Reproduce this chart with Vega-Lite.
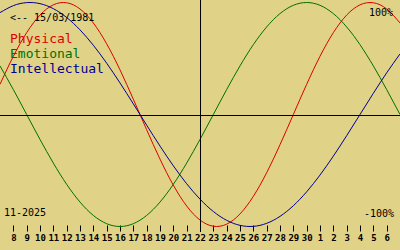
{
  "$schema": "https://vega.github.io/schema/vega-lite/v6.json",
  "width": 400,
  "height": 250,
  "autosize": {"type": "none"},
  "padding": 0,
  "background": "#e0d286",
  "config": {"view": {"stroke": null}},
  "datasets": {
    "bio": [
      {"d": 0, "Physical": 0.2698, "Emotional": 0.4339, "Intellectual": 0.9096},
      {"d": 1, "Physical": 0.5196, "Emotional": 0.2225, "Intellectual": 0.9718},
      {"d": 2, "Physical": 0.7308, "Emotional": 0, "Intellectual": 0.9989},
      {"d": 3, "Physical": 0.8879, "Emotional": -0.2225, "Intellectual": 0.9898},
      {"d": 4, "Physical": 0.9791, "Emotional": -0.4339, "Intellectual": 0.9450},
      {"d": 5, "Physical": 0.9977, "Emotional": -0.6235, "Intellectual": 0.8660},
      {"d": 6, "Physical": 0.9423, "Emotional": -0.7818, "Intellectual": 0.7558},
      {"d": 7, "Physical": 0.8170, "Emotional": -0.9010, "Intellectual": 0.6182},
      {"d": 8, "Physical": 0.6311, "Emotional": -0.9749, "Intellectual": 0.4582},
      {"d": 9, "Physical": 0.3984, "Emotional": -1, "Intellectual": 0.2817},
      {"d": 10, "Physical": 0.1362, "Emotional": -0.9749, "Intellectual": 0.0951},
      {"d": 11, "Physical": -0.1362, "Emotional": -0.9010, "Intellectual": -0.0951},
      {"d": 12, "Physical": -0.3984, "Emotional": -0.7818, "Intellectual": -0.2817},
      {"d": 13, "Physical": -0.6311, "Emotional": -0.6235, "Intellectual": -0.4582},
      {"d": 14, "Physical": -0.8170, "Emotional": -0.4339, "Intellectual": -0.6182},
      {"d": 15, "Physical": -0.9423, "Emotional": -0.2225, "Intellectual": -0.7558},
      {"d": 16, "Physical": -0.9977, "Emotional": 0, "Intellectual": -0.8660},
      {"d": 17, "Physical": -0.9791, "Emotional": 0.2225, "Intellectual": -0.9450},
      {"d": 18, "Physical": -0.8879, "Emotional": 0.4339, "Intellectual": -0.9898},
      {"d": 19, "Physical": -0.7308, "Emotional": 0.6235, "Intellectual": -0.9989},
      {"d": 20, "Physical": -0.5196, "Emotional": 0.7818, "Intellectual": -0.9718},
      {"d": 21, "Physical": -0.2698, "Emotional": 0.9010, "Intellectual": -0.9096},
      {"d": 22, "Physical": 0, "Emotional": 0.9749, "Intellectual": -0.8146},
      {"d": 23, "Physical": 0.2698, "Emotional": 1, "Intellectual": -0.6901},
      {"d": 24, "Physical": 0.5196, "Emotional": 0.9749, "Intellectual": -0.5406},
      {"d": 25, "Physical": 0.7308, "Emotional": 0.9010, "Intellectual": -0.3717},
      {"d": 26, "Physical": 0.8879, "Emotional": 0.7818, "Intellectual": -0.1893},
      {"d": 27, "Physical": 0.9791, "Emotional": 0.6235, "Intellectual": 0},
      {"d": 28, "Physical": 0.9977, "Emotional": 0.4339, "Intellectual": 0.1893},
      {"d": 29, "Physical": 0.9423, "Emotional": 0.2225, "Intellectual": 0.3717},
      {"d": 30, "Physical": 0.8170, "Emotional": 0, "Intellectual": 0.5406}
    ],
    "one": [{"k": 1}]
  },
  "layer": [
    {
      "data": {"name": "bio"},
      "transform": [{"fold": ["Physical", "Emotional", "Intellectual"], "as": ["series", "v"]}],
      "mark": {"type": "line", "interpolate": "natural", "strokeWidth": 1},
      "encoding": {
        "x": {
          "field": "d", "type": "quantitative",
          "scale": {"domain": [0, 30], "nice": false, "zero": false},
          "axis": {"title": null, "orient": "bottom", "offset": -25, "domain": false, "grid": false, "values": [1,2,3,4,5,6,7,8,9,10,11,12,13,14,15,16,17,18,19,20,21,22,23,24,25,26,27,28,29], "labelExpr": "datum.value <= 23 ? datum.value + 7 : datum.value - 23", "tickColor": "#000000", "tickSize": 6, "tickWidth": 1, "labelColor": "#000000", "labelFont": "DejaVu Sans Mono", "labelFontSize": 9, "labelFontWeight": "bold", "labelPadding": 2, "labelOverlap": false, "labelBound": false, "labelFlush": false}
        },
        "y": {
          "field": "v", "type": "quantitative",
          "scale": {"domain": [-1.20982, 1.02232], "nice": false, "zero": false},
          "axis": null
        },
        "color": {
          "field": "series", "type": "nominal",
          "scale": {"domain": ["Physical", "Emotional", "Intellectual"], "range": ["#dd0000", "#007000", "#000090"]},
          "legend": null
        },
        "detail": {"field": "series"}
      }
    },
    {
      "data": {"name": "one"},
      "mark": {"type": "rule", "color": "#000000", "strokeWidth": 1},
      "encoding": {"y": {"datum": -0.00893, "type": "quantitative", "axis": null}}
    },
    {
      "data": {"name": "one"},
      "mark": {"type": "rule", "color": "#000000", "strokeWidth": 1},
      "encoding": {
        "x": {"datum": 15.0375, "type": "quantitative", "axis": {"title": null, "orient": "bottom", "offset": -25, "domain": false, "grid": false, "values": [1,2,3,4,5,6,7,8,9,10,11,12,13,14,15,16,17,18,19,20,21,22,23,24,25,26,27,28,29], "labelExpr": "datum.value <= 23 ? datum.value + 7 : datum.value - 23", "tickColor": "#000000", "tickSize": 6, "tickWidth": 1, "labelColor": "#000000", "labelFont": "DejaVu Sans Mono", "labelFontSize": 9, "labelFontWeight": "bold", "labelPadding": 2, "labelOverlap": false, "labelBound": false, "labelFlush": false}},
        "y": {"datum": 1.02232, "type": "quantitative", "axis": null},
        "y2": {"datum": -1.049}
      }
    },
    {
      "data": {"name": "one"},
      "mark": {"type": "text", "font": "DejaVu Sans Mono", "fontSize": 10, "align": "left", "baseline": "alphabetic", "color": "#000000"},
      "encoding": {"x": {"datum": 0.75, "type": "quantitative", "axis": {"title": null, "orient": "bottom", "offset": -25, "domain": false, "grid": false, "values": [1,2,3,4,5,6,7,8,9,10,11,12,13,14,15,16,17,18,19,20,21,22,23,24,25,26,27,28,29], "labelExpr": "datum.value <= 23 ? datum.value + 7 : datum.value - 23", "tickColor": "#000000", "tickSize": 6, "tickWidth": 1, "labelColor": "#000000", "labelFont": "DejaVu Sans Mono", "labelFontSize": 9, "labelFontWeight": "bold", "labelPadding": 2, "labelOverlap": false, "labelBound": false, "labelFlush": false}}, "y": {"datum": 0.8375, "type": "quantitative", "axis": null}, "text": {"value": "<-- 15/03/1981"}}
    },
    {
      "data": {"name": "one"},
      "mark": {"type": "text", "font": "DejaVu Sans Mono", "fontSize": 13, "align": "left", "baseline": "alphabetic", "color": "#dd0000"},
      "encoding": {"x": {"datum": 0.75, "type": "quantitative", "axis": {"title": null, "orient": "bottom", "offset": -25, "domain": false, "grid": false, "values": [1,2,3,4,5,6,7,8,9,10,11,12,13,14,15,16,17,18,19,20,21,22,23,24,25,26,27,28,29], "labelExpr": "datum.value <= 23 ? datum.value + 7 : datum.value - 23", "tickColor": "#000000", "tickSize": 6, "tickWidth": 1, "labelColor": "#000000", "labelFont": "DejaVu Sans Mono", "labelFontSize": 9, "labelFontWeight": "bold", "labelPadding": 2, "labelOverlap": false, "labelBound": false, "labelFlush": false}}, "y": {"datum": 0.641, "type": "quantitative", "axis": null}, "text": {"value": "Physical"}}
    },
    {
      "data": {"name": "one"},
      "mark": {"type": "text", "font": "DejaVu Sans Mono", "fontSize": 13, "align": "left", "baseline": "alphabetic", "color": "#007000"},
      "encoding": {"x": {"datum": 0.75, "type": "quantitative", "axis": {"title": null, "orient": "bottom", "offset": -25, "domain": false, "grid": false, "values": [1,2,3,4,5,6,7,8,9,10,11,12,13,14,15,16,17,18,19,20,21,22,23,24,25,26,27,28,29], "labelExpr": "datum.value <= 23 ? datum.value + 7 : datum.value - 23", "tickColor": "#000000", "tickSize": 6, "tickWidth": 1, "labelColor": "#000000", "labelFont": "DejaVu Sans Mono", "labelFontSize": 9, "labelFontWeight": "bold", "labelPadding": 2, "labelOverlap": false, "labelBound": false, "labelFlush": false}}, "y": {"datum": 0.502, "type": "quantitative", "axis": null}, "text": {"value": "Emotional"}}
    },
    {
      "data": {"name": "one"},
      "mark": {"type": "text", "font": "DejaVu Sans Mono", "fontSize": 13, "align": "left", "baseline": "alphabetic", "color": "#000090"},
      "encoding": {"x": {"datum": 0.75, "type": "quantitative", "axis": {"title": null, "orient": "bottom", "offset": -25, "domain": false, "grid": false, "values": [1,2,3,4,5,6,7,8,9,10,11,12,13,14,15,16,17,18,19,20,21,22,23,24,25,26,27,28,29], "labelExpr": "datum.value <= 23 ? datum.value + 7 : datum.value - 23", "tickColor": "#000000", "tickSize": 6, "tickWidth": 1, "labelColor": "#000000", "labelFont": "DejaVu Sans Mono", "labelFontSize": 9, "labelFontWeight": "bold", "labelPadding": 2, "labelOverlap": false, "labelBound": false, "labelFlush": false}}, "y": {"datum": 0.3705, "type": "quantitative", "axis": null}, "text": {"value": "Intellectual"}}
    },
    {
      "data": {"name": "one"},
      "mark": {"type": "text", "font": "DejaVu Sans Mono", "fontSize": 10, "align": "right", "baseline": "alphabetic", "color": "#000000"},
      "encoding": {"x": {"datum": 29.475, "type": "quantitative", "axis": {"title": null, "orient": "bottom", "offset": -25, "domain": false, "grid": false, "values": [1,2,3,4,5,6,7,8,9,10,11,12,13,14,15,16,17,18,19,20,21,22,23,24,25,26,27,28,29], "labelExpr": "datum.value <= 23 ? datum.value + 7 : datum.value - 23", "tickColor": "#000000", "tickSize": 6, "tickWidth": 1, "labelColor": "#000000", "labelFont": "DejaVu Sans Mono", "labelFontSize": 9, "labelFontWeight": "bold", "labelPadding": 2, "labelOverlap": false, "labelBound": false, "labelFlush": false}}, "y": {"datum": 0.882, "type": "quantitative", "axis": null}, "text": {"value": "100%"}}
    },
    {
      "data": {"name": "one"},
      "mark": {"type": "text", "font": "DejaVu Sans Mono", "fontSize": 10, "align": "right", "baseline": "alphabetic", "color": "#000000"},
      "encoding": {"x": {"datum": 29.55, "type": "quantitative", "axis": {"title": null, "orient": "bottom", "offset": -25, "domain": false, "grid": false, "values": [1,2,3,4,5,6,7,8,9,10,11,12,13,14,15,16,17,18,19,20,21,22,23,24,25,26,27,28,29], "labelExpr": "datum.value <= 23 ? datum.value + 7 : datum.value - 23", "tickColor": "#000000", "tickSize": 6, "tickWidth": 1, "labelColor": "#000000", "labelFont": "DejaVu Sans Mono", "labelFontSize": 9, "labelFontWeight": "bold", "labelPadding": 2, "labelOverlap": false, "labelBound": false, "labelFlush": false}}, "y": {"datum": -0.9125, "type": "quantitative", "axis": null}, "text": {"value": "-100%"}}
    },
    {
      "data": {"name": "one"},
      "mark": {"type": "text", "font": "DejaVu Sans Mono", "fontSize": 10, "align": "left", "baseline": "alphabetic", "color": "#000000"},
      "encoding": {"x": {"datum": 0.3, "type": "quantitative", "axis": {"title": null, "orient": "bottom", "offset": -25, "domain": false, "grid": false, "values": [1,2,3,4,5,6,7,8,9,10,11,12,13,14,15,16,17,18,19,20,21,22,23,24,25,26,27,28,29], "labelExpr": "datum.value <= 23 ? datum.value + 7 : datum.value - 23", "tickColor": "#000000", "tickSize": 6, "tickWidth": 1, "labelColor": "#000000", "labelFont": "DejaVu Sans Mono", "labelFontSize": 9, "labelFontWeight": "bold", "labelPadding": 2, "labelOverlap": false, "labelBound": false, "labelFlush": false}}, "y": {"datum": -0.906, "type": "quantitative", "axis": null}, "text": {"value": "11-2025"}}
    }
  ]
}
